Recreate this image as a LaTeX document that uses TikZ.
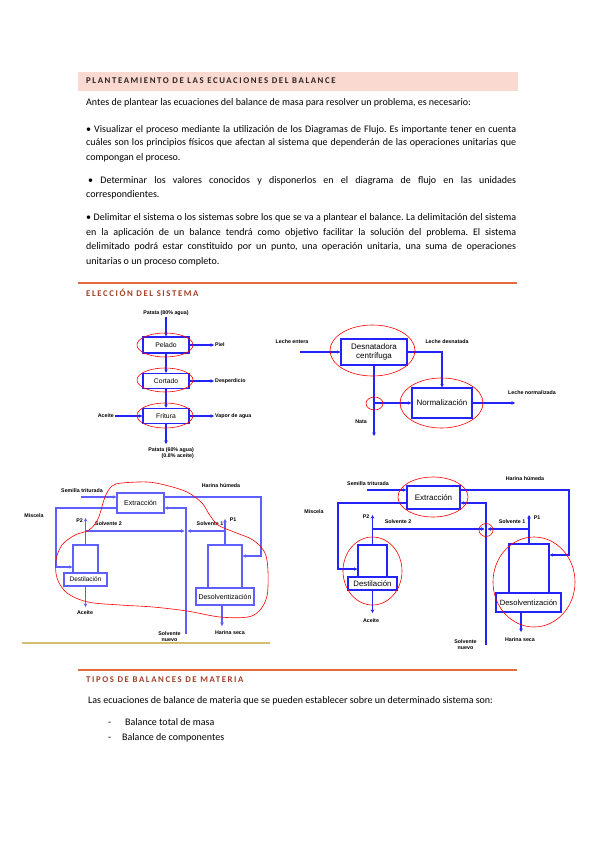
\documentclass[tikz,border=0pt]{standalone}
\usepackage{fontspec}
\setmainfont{Carlito}
\setsansfont{Liberation Sans}
\newfontfamily\spacedfont[LetterSpace=18]{Carlito}
\usetikzlibrary{arrows.meta}

\definecolor{headpink}{RGB}{250,218,208}
\definecolor{headdark}{RGB}{45,35,35}
\definecolor{headbrown}{RGB}{160,64,38}
\definecolor{ruleorange}{RGB}{228,108,60}
\definecolor{rulegold}{RGB}{214,190,112}
\definecolor{flowblue}{RGB}{35,35,250}
\definecolor{paleblue}{RGB}{95,95,255}

\tikzset{
  txt/.style={anchor=base west, inner sep=0pt, font=\fontsize{10}{11}\selectfont},
  head/.style={anchor=base west, inner sep=0pt, font=\spacedfont\bfseries\fontsize{8.8}{10}\selectfont},
  lbl/.style={inner sep=1pt, font=\sffamily\bfseries\fontsize{5.3}{6}\selectfont},
  unit/.style={draw=flowblue, line width=1.1pt, inner sep=0pt, align=center,
    font=\sffamily\fontsize{6.8}{7.8}\selectfont},
  flow/.style={flowblue, line width=1.1pt, -{Stealth[length=3.5pt,width=3.5pt]}},
  pflow/.style={paleblue, line width=1.2pt, -{Stealth[length=3.5pt,width=3.5pt]}},
  limit/.style={red, line width=0.6pt},
}

\begin{document}
\frenchspacing
\begin{tikzpicture}[x=1pt, y=-1pt]
    \useasboundingbox (0,0) rectangle (599,848);

    % Planteamiento
    \fill[headpink] (78,72) rectangle (518,91);
    \node[head, text=headdark] (head1) at (86,84) {PLANTEAMIENTO DE LAS ECUACIONES DEL BALANCE};
    \node[txt] (intro) at (86,106) {Antes de plantear las ecuaciones del balance de masa para resolver un problema, es necesario:};
    \node[txt] (b1a) at (86,132) {\makebox[430pt][s]{• Visualizar el proceso mediante la utilización de los Diagramas de Flujo. Es importante tener en cuenta}};
    \node[txt] (b1b) at (86,146) {\makebox[430pt][s]{cuáles son los principios físicos que afectan al sistema que dependerán de las operaciones unitarias que}};
    \node[txt] (b1c) at (86,160) {compongan el proceso.};
    \node[txt] (b2a) at (88,183) {\makebox[428pt][s]{• Determinar los valores conocidos y disponerlos en el diagrama de flujo en las unidades}};
    \node[txt] (b2b) at (86,197) {correspondientes.};
    \node[txt] (b3a) at (86,220) {\makebox[430pt][s]{• Delimitar el sistema o los sistemas sobre los que se va a plantear el balance. La delimitación del sistema}};
    \node[txt] (b3b) at (86,235) {\makebox[430pt][s]{en la aplicación de un balance tendrá como objetivo facilitar la solución del problema. El sistema}};
    \node[txt] (b3c) at (86,249) {\makebox[430pt][s]{delimitado podrá estar constituido por un punto, una operación unitaria, una suma de operaciones}};
    \node[txt] (b3d) at (86,264) {unitarias o un proceso completo.};

    % Eleccion del sistema
    \draw[ruleorange, line width=1.1pt] (78,283) -- (517,283);
    \node[head, text=headbrown] (head2) at (86,296) {ELECCIÓN DEL SISTEMA};

    % Patata
    \node[lbl] (papain) at (166,313) {Patata (80\% agua)};
    \node[unit, minimum width=46pt, minimum height=16pt] (pelado) at (166,345) {Pelado};
    \node[unit, minimum width=46pt, minimum height=15pt] (cortado) at (166,381) {Cortado};
    \node[unit, minimum width=46pt, minimum height=15pt] (fritura) at (166,416) {Fritura};
    \node[lbl, anchor=west] (piel) at (214,345) {Piel};
    \node[lbl, anchor=west] (desperdicio) at (214,381) {Desperdicio};
    \node[lbl, anchor=west] (vapor) at (214,416) {Vapor de agua};
    \node[lbl, anchor=east] (aceite0) at (115,416) {Aceite};
    \node[lbl, anchor=north east, align=right] (papaout) at (195,446) {Patata (60\% agua)\\(0.8\% aceite)};
    \coordinate (papaend) at (166,444);
    \draw[flow] (papain) -- (pelado);
    \draw[flow] (pelado) -- (cortado);
    \draw[flow] (cortado) -- (fritura);
    \draw[flow] (pelado) -- (piel);
    \draw[flow] (cortado) -- (desperdicio);
    \draw[flow] (fritura) -- (vapor);
    \draw[flow] (aceite0) -- (fritura);
    \draw[flow] (fritura) -- (papaend);
    \draw[limit] (165,345) ellipse [x radius=28pt, y radius=12pt];
    \draw[limit] (165,380) ellipse [x radius=28pt, y radius=12pt];
    \draw[limit] (165,415.5) ellipse [x radius=28pt, y radius=12.5pt];

    % Leche
    \node[lbl] (entera) at (292,342) {Leche entera};
    \node[unit, minimum width=66pt, minimum height=26pt, font=\sffamily\fontsize{8}{9}\selectfont] (desnat) at (374,352) {Desnatadora\\centrífuga};
    \node[unit, minimum width=60pt, minimum height=30pt, font=\sffamily\fontsize{8}{9}\selectfont] (normal) at (442,403) {Normalización};
    \node[lbl] (desnatada) at (447,342) {Leche desnatada};
    \node[lbl] (normalizada) at (532,393) {Leche normalizada};
    \node[lbl] (nata) at (361,422) {Nata};
    \coordinate (enteraend) at (300,352);
    \coordinate (normend) at (515,403);
    \coordinate (nataend) at (374,436);
    \coordinate (natasplit) at (374,403);
    \draw[flow] (enteraend) -- (desnat);
    \draw[flow] (desnat.east) -| (normal.north);
    \draw[flow] (normal) -- (normend);
    \draw[flow] (desnat) -- (nataend);
    \draw[flow] (natasplit) -- (normal);
    \draw[limit] (372.5,350.5) ellipse [x radius=42.5pt, y radius=25.5pt];
    \draw[limit] (441.5,403) ellipse [x radius=41.5pt, y radius=25pt];
    \draw[limit] (374.5,403.5) ellipse [x radius=8.5pt, y radius=6.5pt];

    % Extraccion (sistema global)
    \node[unit, draw=paleblue, minimum width=47pt, minimum height=20pt, font=\sffamily\fontsize{7}{8}\selectfont] (extr1) at (140.5,503) {Extracción};
    \node[unit, draw=paleblue, minimum width=25pt, minimum height=29pt] (destil1top) at (85.5,559.5) {};
    \node[unit, draw=paleblue, fill=white, minimum width=43pt, minimum height=13pt, font=\sffamily\fontsize{6.5}{7.5}\selectfont] (destil1) at (85.5,579.5) {Destilación};
    \node[unit, draw=paleblue, minimum width=34pt, minimum height=43pt] (desol1top) at (225,566.5) {};
    \node[unit, draw=paleblue, fill=white, minimum width=58pt, minimum height=17pt, font=\sffamily\fontsize{7}{8}\selectfont] (desol1) at (225,596.5) {Desolventización};
    \node[lbl] (semilla1) at (82,491) {Semilla triturada};
    \node[lbl] (humeda1) at (221,486) {Harina húmeda};
    \node[lbl] (miscela1) at (34,516) {Miscela};
    \node[lbl] (p2a) at (79.5,521) {P2};
    \node[lbl] (p1a) at (233,520) {P1};
    \node[lbl] (solv2a) at (108.5,524) {Solvente 2};
    \node[lbl] (solv1a) at (210,524) {Solvente 1};
    \node[lbl] (aceite1) at (85,613) {Aceite};
    \node[lbl] (seca1) at (230,633) {Harina seca};
    \node[lbl, align=center] (nuevo1lbl) at (169.5,637) {Solvente\\nuevo};
    \coordinate (semilla1end) at (81,497);
    \coordinate (humeda1turn) at (261,556);
    \coordinate (miscela1turn) at (56,567);
    \coordinate (mix1) at (186,531);
    \coordinate (nuevo1) at (186,634);
    \coordinate (p2a end) at (85.5,518);
    \coordinate (p1a end) at (225,519);
    \coordinate (aceite1end) at (85.5,607);
    \coordinate (seca1end) at (222,626);
    \draw[pflow] (semilla1end) -- ([yshift=6pt]extr1.west);
    \draw[pflow] ([yshift=6pt]extr1.east) -| (humeda1turn) -- (desol1top.east |- humeda1turn);
    \draw[pflow] ([yshift=-5pt]extr1.west) -| (miscela1turn) -- (destil1top.west |- miscela1turn);
    \draw[pflow] (nuevo1) |- ([yshift=-5pt]extr1.east);
    \draw[pflow] (destil1top.north) -- (p2a end);
    \draw[pflow] (desol1top.north) -- (p1a end);
    \draw[pflow] (destil1top.north |- mix1) -- ([xshift=-1.5pt]mix1);
    \draw[pflow] (desol1top.north |- mix1) -- ([xshift=1.5pt]mix1);
    \draw[pflow] (destil1) -- (aceite1end);
    \draw[pflow] (desol1.south -| seca1end) -- (seca1end);
    \draw[limit] plot[smooth cycle, tension=0.55] coordinates {
      (56,560) (62,545) (75,535) (89,530) (98,519) (105,497) (112,486)
      (122,483) (147,482) (165,485) (187,492) (202,503) (209,514)
      (218,525) (234,532) (253,540) (265,553) (268,572) (267,596)
      (260,610) (248,617) (220,617) (187,611) (153,607) (120,605)
      (88,602) (67,593) (57,578)};
    \draw[rulegold, line width=1.4pt] (22,643) -- (270,643);

    % Extraccion (sistemas parciales)
    \node[unit, minimum width=53pt, minimum height=23pt, font=\sffamily\fontsize{8}{9}\selectfont] (extr2) at (433.5,497.5) {Extracción};
    \node[unit, minimum width=29pt, minimum height=32pt] (destil2top) at (372.5,561) {};
    \node[unit, fill=white, minimum width=49pt, minimum height=13pt, font=\sffamily\fontsize{7.8}{8.8}\selectfont] (destil2) at (372.5,583.5) {Destilación};
    \node[unit, minimum width=40pt, minimum height=49pt] (desol2top) at (529,568.5) {};
    \node[unit, fill=white, minimum width=65pt, minimum height=19pt, font=\sffamily\fontsize{7.6}{8.6}\selectfont] (desol2) at (528.5,602.5) {Desolventización};
    \node[lbl] (semilla2) at (368,484) {Semilla triturada};
    \node[lbl] (humeda2) at (525,479) {Harina húmeda};
    \node[lbl] (miscela2) at (314,512) {Miscela};
    \node[lbl] (p2b) at (366,517) {P2};
    \node[lbl] (p1b) at (537,518) {P1};
    \node[lbl] (solv2b) at (398,522) {Solvente 2};
    \node[lbl] (solv1b) at (512,522) {Solvente 1};
    \node[lbl] (aceite2) at (371,621) {Aceite};
    \node[lbl] (seca2) at (520,640) {Harina seca};
    \node[lbl, align=center] (nuevo2lbl) at (465.5,645) {Solvente\\nuevo};
    \coordinate (semilla2end) at (367,490);
    \coordinate (humeda2turn) at (569,555);
    \coordinate (miscela2turn) at (338,569);
    \coordinate (mix2) at (486,529);
    \coordinate (nuevo2) at (486,645);
    \coordinate (p2b end) at (372.5,515);
    \coordinate (p1b end) at (529,515);
    \coordinate (aceite2end) at (372.5,613);
    \coordinate (seca2end) at (521,632);
    \draw[flow] (semilla2end) -- ([yshift=7.5pt]extr2.west);
    \draw[flow] ([yshift=7.5pt]extr2.east) -| (humeda2turn) -- (desol2top.east |- humeda2turn);
    \draw[flow] ([yshift=-5.5pt]extr2.west) -| (miscela2turn) -- (destil2top.west |- miscela2turn);
    \draw[flow] (nuevo2) |- ([yshift=-5.5pt]extr2.east);
    \draw[flow] (destil2top.north) -- (p2b end);
    \draw[flow] (desol2top.north) -- (p1b end);
    \draw[flow] (destil2top.north |- mix2) -- ([xshift=-1.5pt]mix2);
    \draw[flow] (desol2top.north |- mix2) -- ([xshift=1.5pt]mix2);
    \draw[flow] (destil2) -- (aceite2end);
    \draw[flow] (desol2.south -| seca2end) -- (seca2end);
    \draw[limit] (433,497) ellipse [x radius=35pt, y radius=20pt];
    \draw[limit] (372.5,571) ellipse [x radius=29.5pt, y radius=34pt];
    \draw[limit] (534,582) ellipse [x radius=41pt, y radius=45pt];
    \draw[limit] (486,530) ellipse [x radius=7pt, y radius=6.5pt];

    % Tipos de balances
    \draw[ruleorange, line width=1.1pt] (78,670) -- (517,670);
    \node[head, text=headbrown] (head3) at (86,682) {TIPOS DE BALANCES DE MATERIA};
    \node[txt] (tipos) at (88,703) {Las ecuaciones de balance de materia que se pueden establecer sobre un determinado sistema son:};
    \node[txt] (dash1) at (108,725) {-};
    \node[txt] (total) at (125,725) {Balance total de masa};
    \node[txt] (dash2) at (108,740) {-};
    \node[txt] (compo) at (122,740) {Balance de componentes};
\end{tikzpicture}
\end{document}
